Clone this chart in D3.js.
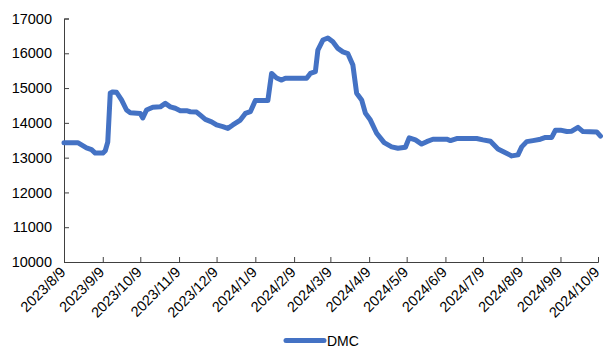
<!DOCTYPE html>
<html>
<head>
<meta charset="utf-8">
<script src="https://cdn.jsdelivr.net/npm/d3@7"></script>
<style>
  html, body { margin: 0; padding: 0; background: #fff; }
  svg { display: block; font-family: "Liberation Sans", Arial, sans-serif; }
</style>
</head>
<body>
<svg id="chart" width="603" height="347"></svg>
<script>
// DMC price series (yuan/ton)
const seriesName = "DMC";
const dates = [
  "2023-08-09","2023-08-20","2023-08-27","2023-08-31","2023-09-03","2023-09-09","2023-09-11","2023-09-13",
  "2023-09-15","2023-09-17","2023-09-20","2023-09-24","2023-09-28","2023-10-01","2023-10-09","2023-10-11",
  "2023-10-14","2023-10-19","2023-10-25","2023-10-29","2023-11-02","2023-11-06","2023-11-10","2023-11-15",
  "2023-11-18","2023-11-23","2023-11-26","2023-11-30","2023-12-05","2023-12-09","2023-12-14","2023-12-18",
  "2023-12-22","2023-12-28","2024-01-01","2024-01-05","2024-01-09","2024-01-19","2024-01-22","2024-01-26",
  "2024-01-30","2024-02-02","2024-02-19","2024-02-22","2024-02-26","2024-02-28","2024-03-03","2024-03-07",
  "2024-03-11","2024-03-15","2024-03-19","2024-03-23","2024-03-27","2024-03-30","2024-04-03","2024-04-06",
  "2024-04-10","2024-04-15","2024-04-21","2024-04-27","2024-05-02","2024-05-08","2024-05-11","2024-05-16",
  "2024-05-21","2024-05-25","2024-05-30","2024-06-10","2024-06-13","2024-06-18","2024-07-04","2024-07-09",
  "2024-07-15","2024-07-21","2024-07-27","2024-08-01","2024-08-06","2024-08-09","2024-08-13","2024-08-18",
  "2024-08-24","2024-08-28","2024-09-02","2024-09-05","2024-09-09","2024-09-14","2024-09-18","2024-09-23",
  "2024-09-27","2024-10-08","2024-10-11"
];
const prices = [
  13430,13430,13280,13230,13130,13130,13200,13450,
  14860,14890,14880,14660,14370,14290,14270,14140,
  14370,14450,14460,14560,14460,14420,14350,14350,
  14320,14310,14220,14100,14030,13940,13890,13840,
  13940,14080,14270,14320,14640,14640,15420,15290,
  15230,15280,15280,15420,15470,16090,16380,16440,
  16330,16140,16040,15990,15660,14850,14660,14280,
  14080,13700,13430,13310,13270,13300,13570,13510,
  13390,13460,13530,13530,13490,13550,13550,13510,
  13470,13250,13140,13050,13080,13310,13460,13490,
  13530,13580,13580,13790,13790,13750,13760,13870,
  13750,13740,13620
];
const tickDates = [
  "2023-08-09","2023-09-09","2023-10-09","2023-11-09","2023-12-09","2024-01-09","2024-02-09",
  "2024-03-09","2024-04-09","2024-05-09","2024-06-09","2024-07-09","2024-08-09","2024-09-09","2024-10-09"
];
const yTicks = [10000, 11000, 12000, 13000, 14000, 15000, 16000, 17000];

const parse = d3.timeParse("%Y-%m-%d");
const fmt = d => d.getFullYear() + "/" + (d.getMonth() + 1) + "/" + d.getDate();
const data = dates.map((d, i) => ({ date: parse(d), value: prices[i] }));

const svg = d3.select("#chart");
const plotLeft = 64, plotRight = 598, plotTop = 18.5, plotBottom = 262;

const x = d3.scaleTime()
  .domain([parse(tickDates[0]), parse(tickDates[tickDates.length - 1])])
  .range([plotLeft, plotRight]);
const y = d3.scaleLinear().domain([10000, 17000]).range([plotBottom, plotTop]);

const axisColor = "#404040";
const font = "'Liberation Sans', Arial, sans-serif";

// y axis (ticks pointing into the plot)
const gy = svg.append("g")
  .attr("transform", `translate(${plotLeft},0)`)
  .call(d3.axisLeft(y).tickValues(yTicks).tickSize(-5).tickPadding(12).tickFormat(d3.format("d")));
gy.select(".domain").attr("stroke", axisColor);
gy.selectAll(".tick line").attr("stroke", axisColor);
gy.selectAll(".tick text").attr("fill", "#000").style("font-size", "14.5px").attr("font-family", font);

// x axis (ticks pointing into the plot, rotated labels)
const gx = svg.append("g")
  .attr("transform", `translate(0,${plotBottom})`)
  .call(d3.axisBottom(x).tickValues(tickDates.map(parse)).tickSize(-5).tickFormat(fmt));
gx.select(".domain").attr("stroke", axisColor);
gx.selectAll(".tick line").attr("stroke", axisColor);
gx.selectAll(".tick text")
  .attr("fill", "#000").style("font-size", "14.5px").attr("font-family", font)
  .attr("text-anchor", "end")
  .attr("dy", null)
  .attr("x", 0).attr("y", 0)
  .attr("transform", "translate(2,11) rotate(-45)");

// price line
const line = d3.line().x(d => x(d.date)).y(d => y(d.value));
svg.append("path")
  .datum(data)
  .attr("d", line)
  .attr("fill", "none")
  .attr("stroke", "#4472C4")
  .attr("stroke-width", 5)
  .attr("stroke-linejoin", "round")
  .attr("stroke-linecap", "round");

// legend
const lg = svg.append("g");
lg.append("line")
  .attr("x1", 286).attr("x2", 324).attr("y1", 340.5).attr("y2", 340.5)
  .attr("stroke", "#4472C4").attr("stroke-width", 5).attr("stroke-linecap", "round");
lg.append("text")
  .attr("x", 327).attr("y", 345.5)
  .style("font-size", "14px").attr("fill", "#000").attr("font-family", font)
  .text(seriesName);
</script>
</body>
</html>
